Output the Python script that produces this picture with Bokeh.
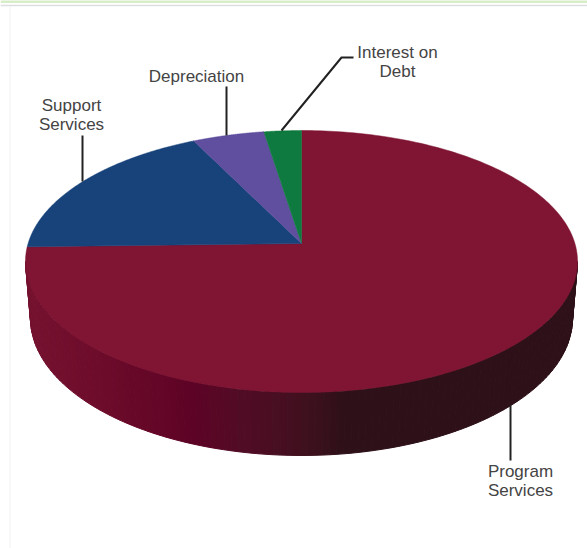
import numpy as np
from bokeh.embed import file_html
from bokeh.models import Range1d
from bokeh.plotting import figure
from bokeh.resources import INLINE

# data
categories = ["Program Services", "Support Services", "Depreciation", "Interest on Debt"]
shares = [74.6, 18.1, 4.8, 2.5]
slice_colors = ["#7f1433", "#17427a", "#5f4f9e", "#0f7a3f"]

# geometry of the tilted disc, in page pixels
CX, CY = 301, 243
A, B, K = 273.4, 128.5, 0.1374
TOP_CY, TOP_RX, TOP_RY = 261, 276, 131
BOT_CY, BOT_RX, BOT_RY = 318, 271, 137

side_x = [25, 100, 190, 240, 300, 345, 580]
side_rgb = [(0x75, 0x12, 0x30), (0x6e, 0x0c, 0x2b), (0x5e, 0x03, 0x25),
            (0x52, 0x0c, 0x26), (0x42, 0x10, 0x1f), (0x2e, 0x10, 0x18), (0x2e, 0x10, 0x18)]


def project(theta):
    """Clockwise angle from 12 o'clock on the disc to page pixels."""
    u, v = np.sin(theta), np.cos(theta)
    d = 1 + K * v
    return CX + A * u / d, CY - B * v / d


p = figure(width=587, height=548, output_backend="svg", toolbar_location=None,
           x_range=Range1d(0, 587), y_range=Range1d(548, 0),
           min_border=0, outline_line_color=None, background_fill_color="white",
           margin=(0, 0, 0, 0))
p.axis.visible = False
p.grid.visible = False

# page furniture behind the chart
p.line([0, 587], [1, 1], line_color="#d6edc8", line_width=3)
p.line([0, 587], [5, 5], line_color="#dddddd", line_width=1.5)
p.line([9.5, 9.5], [6, 548], line_color="#f1f1f1", line_width=1)

# rim: narrow vertical bands that darken from left to right
edges = np.linspace(np.pi, 2 * np.pi, 121)
xs, ys, cols = [], [], []
for t0, t1 in zip(edges[:-1], edges[1:]):
    tt = np.array([t0, t1])
    xt = CX + TOP_RX * np.cos(tt)
    yt = TOP_CY - TOP_RY * np.sin(tt)
    xb = CX + BOT_RX * np.cos(tt)
    yb = BOT_CY - BOT_RY * np.sin(tt)
    xs.append([xt[0], xt[1], xb[1], xb[0]])
    ys.append([yt[0], yt[1], yb[1], yb[0]])
    mid = xt.mean()
    rgb = [int(np.interp(mid, side_x, [c[i] for c in side_rgb])) for i in range(3)]
    cols.append("#%02x%02x%02x" % tuple(rgb))
p.patches(xs, ys, fill_color=cols, line_color=cols, line_width=1)

# top face: slices follow one another clockwise from 12 o'clock
cursor = 0.0
total = sum(shares)
for share, color in zip(shares, slice_colors):
    sweep = share / total * 2 * np.pi
    th = np.linspace(cursor, cursor + sweep, 240)
    cursor += sweep
    ex, ey = project(th)
    p.patch(np.r_[CX, ex], np.r_[CY, ey], fill_color=color, line_color=color, line_width=0.5)

# leader lines
leaders = [([82, 82], [135, 181]), ([226, 226], [86, 135]),
           ([281, 341, 353], [130, 57, 57]), ([510, 510], [405, 460])]
for lx, ly in leaders:
    p.line(lx, ly, line_color="#222222", line_width=2)

# labels
labels = [("Support", 71, 105), ("Services", 71, 124), ("Depreciation", 196, 76),
          ("Interest on", 397, 52), ("Debt", 397, 71),
          ("Program", 520, 471), ("Services", 520, 490)]
for txt, lx, ly in labels:
    p.text([lx], [ly], text=[txt], text_align="center", text_baseline="middle",
           text_font={"value": "Liberation Sans"}, text_font_size="17px", text_color="#444444")

open("out.html", "w").write(file_html(p, INLINE))
